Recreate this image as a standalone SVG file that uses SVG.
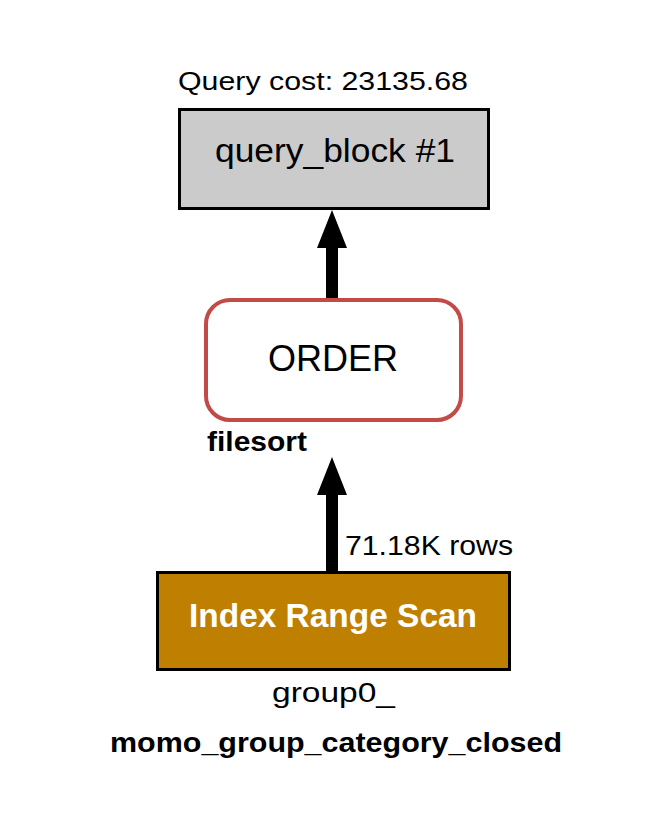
<svg xmlns="http://www.w3.org/2000/svg" width="670" height="840" viewBox="0 0 670 840">
<style>
  text { font-family: "Liberation Sans", Arial, sans-serif; fill: #000; }
  .b { font-weight: bold; }
  .arrow { fill: #000; stroke: none; }
</style>
<rect x="0" y="0" width="670" height="840" fill="#fff"/>
<g id="connectors">
  <polygon class="arrow" points="332,210 347,248 338,248 338,298 326,298 326,248 317,248"/>
  <polygon class="arrow" points="332,457 347,495 338,495 338,572 326,572 326,495 317,495"/>
  <text x="345" y="555" font-size="28" textLength="168" lengthAdjust="spacingAndGlyphs">71.18K rows</text>
</g>
<g id="query_block">
  <text x="178" y="90" font-size="26" textLength="290" lengthAdjust="spacingAndGlyphs">Query cost: 23135.68</text>
  <rect x="179.5" y="109.5" width="309" height="99" fill="#cbcbcb" stroke="#000" stroke-width="3"/>
  <text x="215" y="162" font-size="33" textLength="240" lengthAdjust="spacingAndGlyphs">query_block #1</text>
</g>
<g id="order">
  <rect x="206" y="300" width="255" height="120" rx="24" ry="24" fill="#fff" stroke="#c24a47" stroke-width="4"/>
  <text x="268" y="371" font-size="36" textLength="130" lengthAdjust="spacingAndGlyphs">ORDER</text>
  <text class="b" x="207" y="451" font-size="27" textLength="100" lengthAdjust="spacingAndGlyphs">filesort</text>
</g>
<g id="index_range_scan">
  <rect x="157.5" y="572.5" width="352" height="97" fill="#bf7f00" stroke="#000" stroke-width="3"/>
  <text class="b" x="189" y="627" font-size="33" textLength="288" lengthAdjust="spacingAndGlyphs" style="fill:#fff">Index Range Scan</text>
  <text x="272" y="702" font-size="27" textLength="123" lengthAdjust="spacingAndGlyphs">group0_</text>
  <text class="b" x="110" y="752" font-size="27" textLength="452" lengthAdjust="spacingAndGlyphs">momo_group_category_closed</text>
</g>
</svg>
